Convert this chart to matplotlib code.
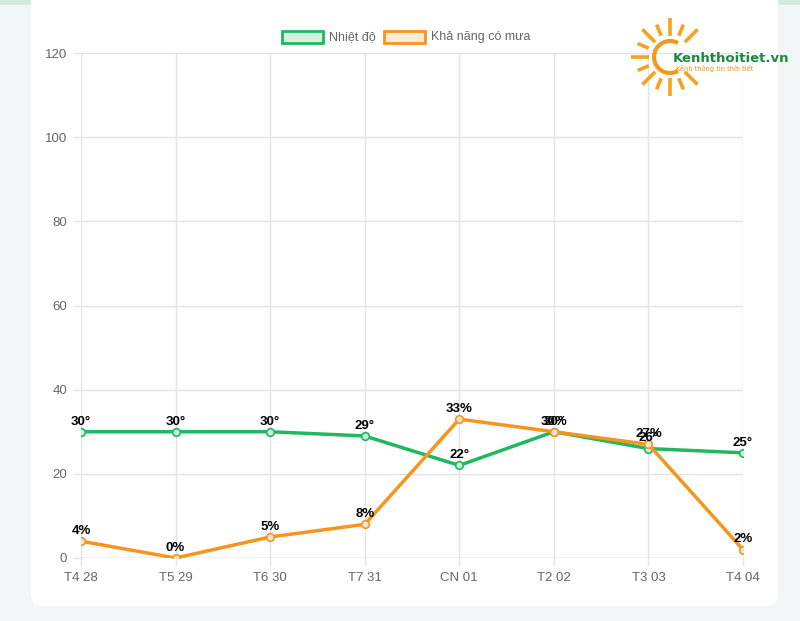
import numpy as np
import matplotlib
matplotlib.use('Agg')
import matplotlib.pyplot as plt
from matplotlib.patches import FancyBboxPatch, Rectangle, Arc

days = ['T4 28', 'T5 29', 'T6 30', 'T7 31', 'CN 01', 'T2 02', 'T3 03', 'T4 04']
temp = [30, 30, 30, 29, 22, 30, 26, 25]
rain = [4, 0, 5, 8, 33, 30, 27, 2]
y_ticks = [0, 20, 40, 60, 80, 100, 120]

GREEN = '#1fb85f'
ORANGE = '#f6941f'
GRID = '#e3e3e3'
TXT = '#666666'

plt.rcParams['font.family'] = ['Liberation Sans', 'DejaVu Sans']


def main():
    fig = plt.figure(figsize=(8, 6.21), dpi=100)
    fig.patch.set_facecolor('#f2f6f6')

    # background card (pixel coords)
    bg = fig.add_axes([0, 0, 1, 1], zorder=0)
    bg.set_xlim(0, 800)
    bg.set_ylim(621, 0)
    bg.axis('off')
    bg.add_patch(Rectangle((0, 0), 800, 5, color='#d3eadf', lw=0))
    bg.add_patch(FancyBboxPatch((31, -20), 747, 626, boxstyle='round,pad=0,rounding_size=12',
                                fc='white', ec='none'))

    ax = fig.add_axes([81 / 800, 1 - 558 / 621, (743 - 81) / 800, (558 - 53) / 621], zorder=1)
    ax.patch.set_alpha(0)
    x = np.arange(len(days))

    ax.plot(x, temp, color=GREEN, lw=2.5, marker='o', ms=5.5, mfc='#c9efd8', mec=GREEN, mew=1.2, zorder=3)
    ax.plot(x, rain, color=ORANGE, lw=2.5, marker='o', ms=5.5, mfc='#fde6c8', mec=ORANGE, mew=1.2, zorder=3)

    for i in range(len(days)):
        ax.annotate(f'{temp[i]}°', (x[i], temp[i]), xytext=(0, 3), textcoords='offset points',
                    ha='center', va='bottom', fontsize=9.5, fontweight='bold', color='black', zorder=5)
        ax.annotate(f'{rain[i]}%', (x[i], rain[i]), xytext=(0, 3), textcoords='offset points',
                    ha='center', va='bottom', fontsize=9.5, fontweight='bold', color='black', zorder=5)

    ax.set_xlim(0, len(days) - 1)
    ax.set_ylim(0, 120)
    ax.set_xticks(x)
    ax.set_xticklabels(days)
    ax.set_yticks(y_ticks)
    ax.grid(True, color=GRID, lw=1)
    ax.tick_params(colors=GRID, labelcolor=TXT, labelsize=9.5, length=6, width=1, pad=4)
    for s in ax.spines.values():
        s.set_visible(False)
    ax.axhline(0, color='#cfcfcf', lw=1, zorder=2)

    # legend and logo (pixel coords)
    fg = fig.add_axes([0, 0, 1, 1], zorder=5)
    fg.set_xlim(0, 800)
    fg.set_ylim(621, 0)
    fg.axis('off')
    fg.add_patch(Rectangle((282, 30.5), 41, 12, fc='#d3f2df', ec=GREEN, lw=2))
    fg.text(329, 37, 'Nhiệt độ', color=TXT, fontsize=9, va='center', ha='left')
    fg.add_patch(Rectangle((384, 30.5), 41, 12, fc='#fdebd3', ec=ORANGE, lw=2))
    fg.text(431, 37, 'Khả năng có mưa', color=TXT, fontsize=9, va='center', ha='left')

    cx, cy = 670, 57
    angles = np.deg2rad(np.arange(45, 316, 22.5))
    for k, a in enumerate(angles):
        r0, r1 = (21, 39) if k % 2 == 0 else (23, 35)
        fg.plot([cx + r0 * np.cos(a), cx + r1 * np.cos(a)],
                [cy - r0 * np.sin(a), cy - r1 * np.sin(a)],
                color='#f7a21b', lw=2.6, solid_capstyle='butt')
    fg.add_patch(Arc((cx, cy), 32, 32, theta1=60, theta2=300, color='#f39a1a', lw=3))
    fg.text(673, 58, 'Kenhthoitiet.vn', color='#1a8a3c', fontsize=9.5, fontweight='bold',
            ha='left', va='center', family='DejaVu Sans')
    fg.text(676, 68.5, 'Kênh thông tin thời tiết', color='#e8921a', fontsize=4.8,
            ha='left', va='center', family='DejaVu Sans')

    fig.savefig('out.png', dpi=100)


if __name__ == "__main__":
    main()
